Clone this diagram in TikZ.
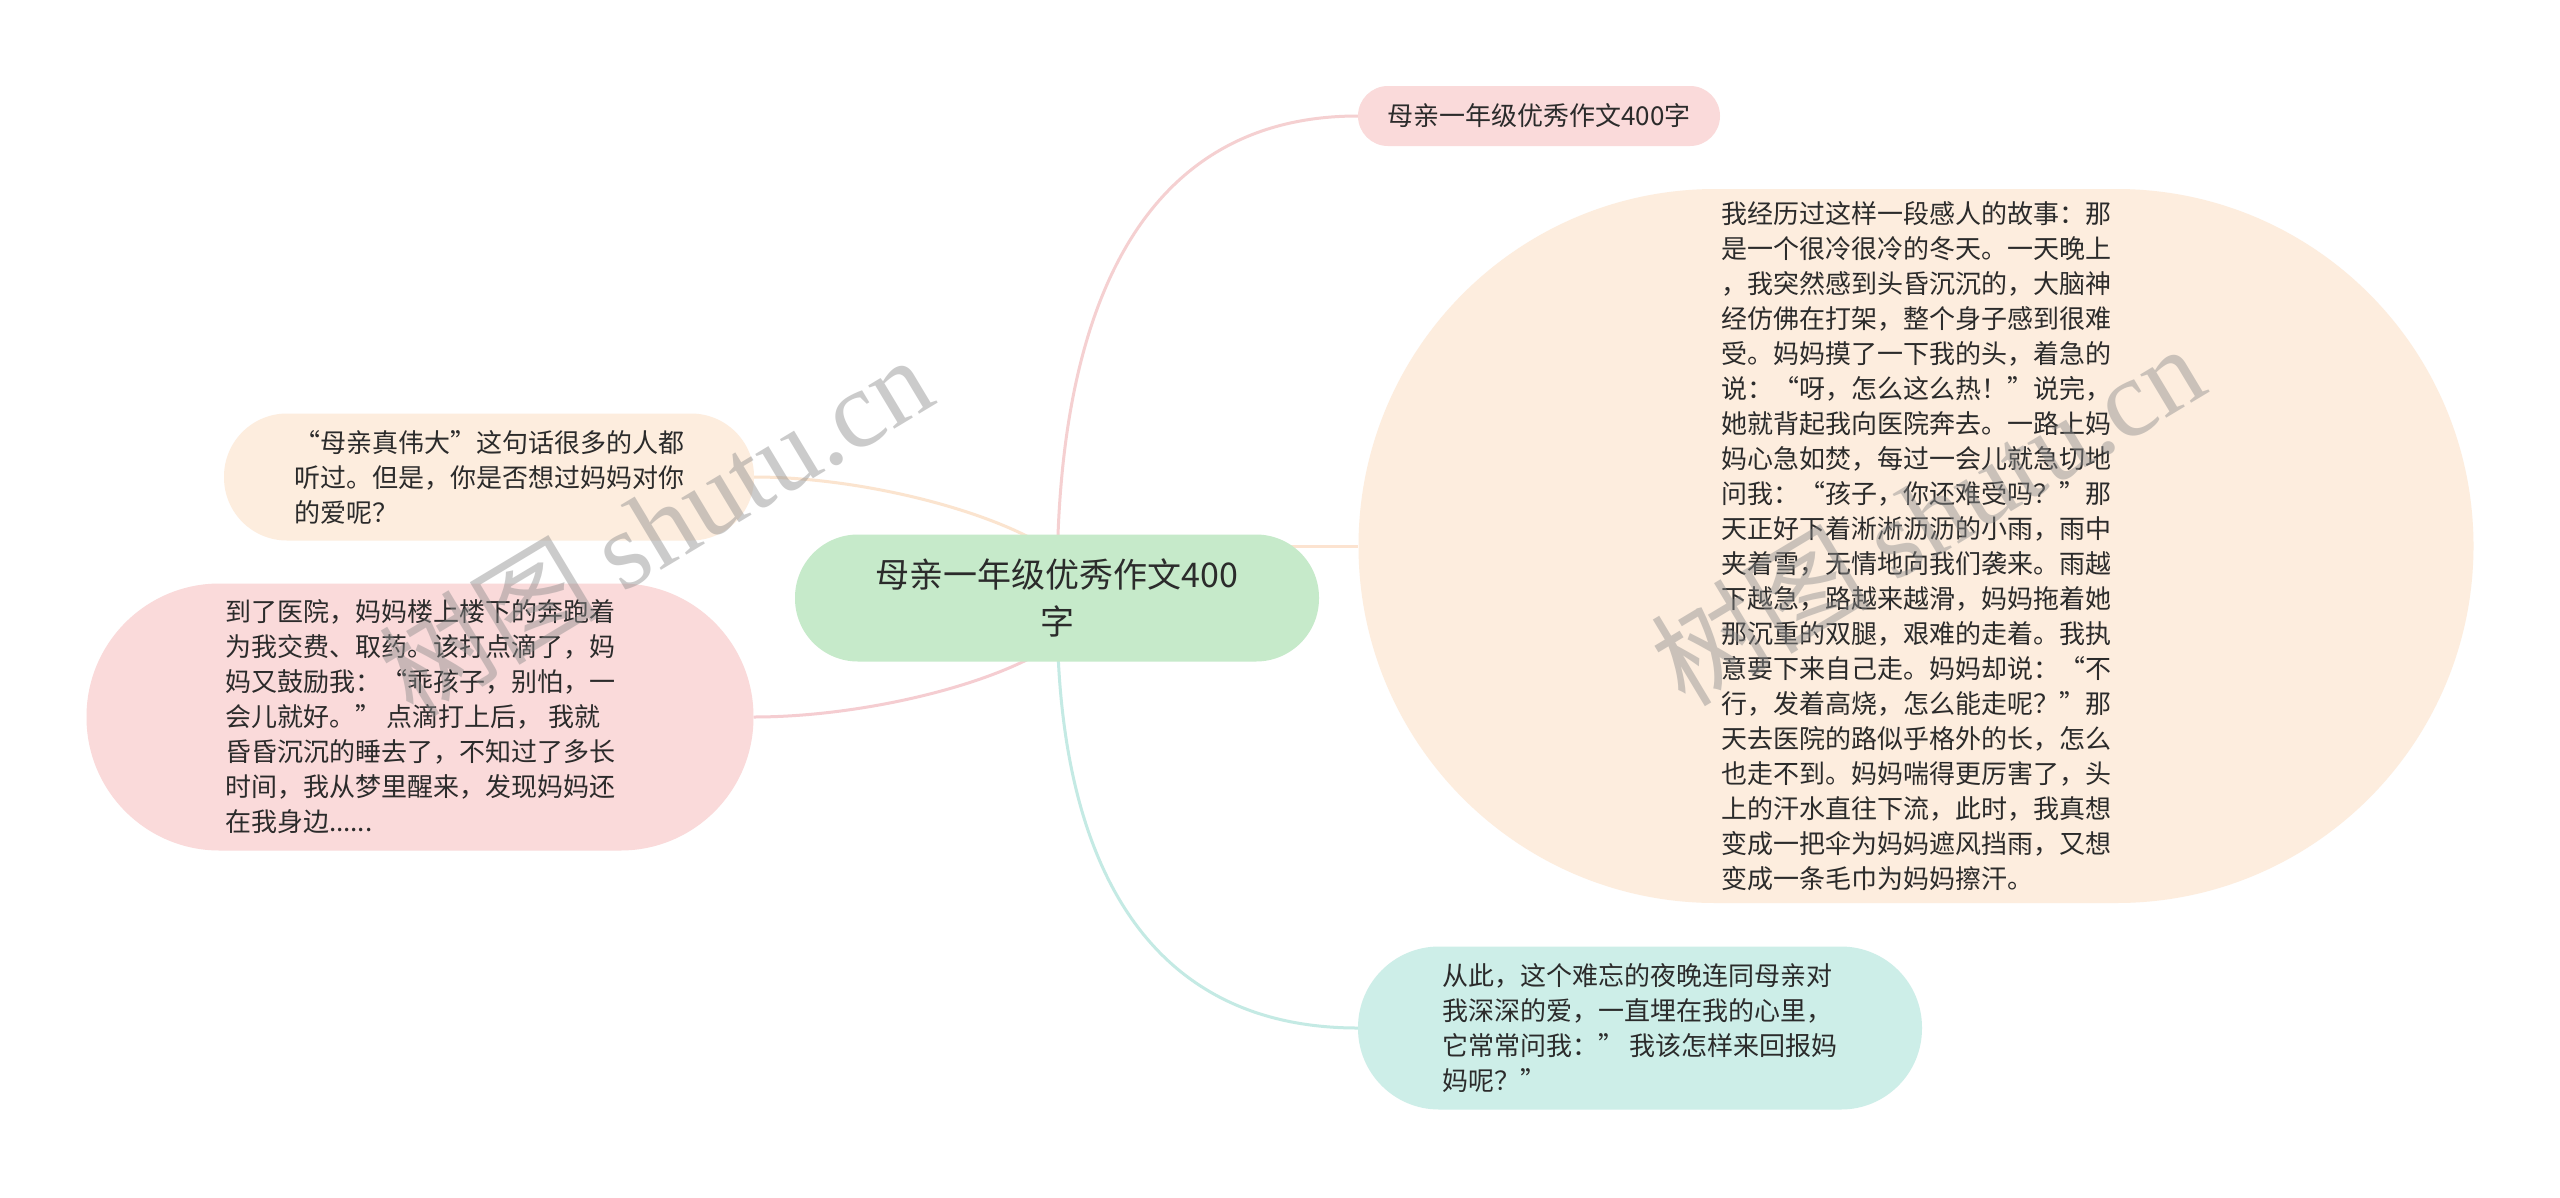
\documentclass[tikz,border=0pt]{standalone}
\usepackage{fontspec}
\setmainfont{Noto Sans CJK SC}
\newfontfamily\cjkfw{Noto Sans CJK SC}[RawFeature=+fwid]
\newfontfamily\wmlatin{Liberation Serif}
\newcommand\myoq{{\cjkfw “}}
\newcommand\mycq{{\cjkfw ”}}
\definecolor{textc}{HTML}{2B2B2B}
\definecolor{rootc}{HTML}{C6EACA}
\definecolor{pinkc}{HTML}{FADADA}
\definecolor{peachc}{HTML}{FDEDDE}
\definecolor{mintc}{HTML}{CDEEE8}
\definecolor{ctop}{HTML}{F5D0D1}
\definecolor{cbig}{HTML}{FCE3D0}
\definecolor{cbot}{HTML}{C4EAE4}
\definecolor{cla}{HTML}{FBE4CF}
\definecolor{clb}{HTML}{F5CDD1}
\pgfdeclarelayer{background}
\pgfsetlayers{background,main}
\begin{document}
\begin{tikzpicture}[x=1pt,y=-1pt,
  txt/.style={text=textc, font=\fontsize{26}{35}\selectfont, align=left, inner sep=0pt},
  bub/.style 2 args={fill=#1, rounded corners=#2, inner sep=0pt},
  link/.style={line width=3pt, draw=#1},
  wmark/.style={rotate=31, text=black!45, text opacity=0.45, font=\fontsize{110}{110}\selectfont, inner sep=0pt}]
\useasboundingbox (0,0) rectangle (2560,1197);

\node[bub={rootc}{63pt}, minimum width=524pt, minimum height=127pt, text=textc,
      font=\fontsize{34}{47}\selectfont, align=center] (root) at (1057,598) {母亲一年级优秀作文400\\字};

\node[bub={pinkc}{30pt}, minimum width=362pt, minimum height=60pt, txt] (top) at (1539,116) {母亲一年级优秀作文400字};

\node[bub={peachc}{357pt}, minimum width=1115pt, minimum height=714pt, txt] (big) at (1916,546) {我经历过这样一段感人的故事：那\\
是一个很冷很冷的冬天。一天晚上\\
，我突然感到头昏沉沉的，大脑神\\
经仿佛在打架，整个身子感到很难\\
受。妈妈摸了一下我的头，着急的\\
说：\myoq 呀，怎么这么热！\mycq 说完，\\
她就背起我向医院奔去。一路上妈\\
妈心急如焚，每过一会儿就急切地\\
问我：\myoq 孩子，你还难受吗？\mycq 那\\
天正好下着淅淅沥沥的小雨，雨中\\
夹着雪，无情地向我们袭来。雨越\\
下越急，路越来越滑，妈妈拖着她\\
那沉重的双腿，艰难的走着。我执\\
意要下来自己走。妈妈却说：\myoq 不\\
行，发着高烧，怎么能走呢？\mycq 那\\
天去医院的路似乎格外的长，怎么\\
也走不到。妈妈喘得更厉害了，头\\
上的汗水直往下流，此时，我真想\\
变成一把伞为妈妈遮风挡雨，又想\\
变成一条毛巾为妈妈擦汗。};

\node[bub={peachc}{63pt}, minimum width=530pt, minimum height=127pt, txt] (lefta) at (489,477) {\myoq 母亲真伟大\mycq 这句话很多的人都\\
听过。但是，你是否想过妈妈对你\\
的爱呢？};

\node[bub={pinkc}{133pt}, minimum width=667pt, minimum height=267pt, txt] (leftb) at (420,717) {到了医院，妈妈楼上楼下的奔跑着\\
为我交费、取药。该打点滴了，妈\\
妈又鼓励我：\myoq 乖孩子，别怕，一\\
会儿就好。\mycq{} 点滴打上后， 我就\\
昏昏沉沉的睡去了，不知过了多长\\
时间，我从梦里醒来，发现妈妈还\\
在我身边......};

\node[bub={mintc}{81pt}, minimum width=564pt, minimum height=163pt, txt] (bot) at (1640,1028) {从此，这个难忘的夜晚连同母亲对\\
我深深的爱，一直埋在我的心里，\\
它常常问我：\mycq{} 我该怎样来回报妈\\
妈呢？\mycq};

\begin{pgfonlayer}{background}
\fill[white] (0,0) rectangle (2560,1197);
\draw[link=ctop] (root.center) .. controls (1057,480) and (1060,116) .. (top.west);
\draw[link=cbig] (root.center |- big.west) -- (big.west);
\draw[link=cbot] (root.center) .. controls (1057,700) and (1060,1028) .. (bot.west);
\draw[link=cla] ([shift={(-7,15)}]root.north) .. controls (990,510) and (860,477) .. (lefta.east);
\draw[link=clb] ([shift={(-7,-15)}]root.south) .. controls (990,686) and (860,717) .. (leftb.east);
\end{pgfonlayer}

\node[wmark] (wma) at (655,525) {树图 {\wmlatin shutu.cn}};
\node[wmark] (wmb) at (1927,514) {树图 {\wmlatin shutu.cn}};
\end{tikzpicture}
\end{document}
